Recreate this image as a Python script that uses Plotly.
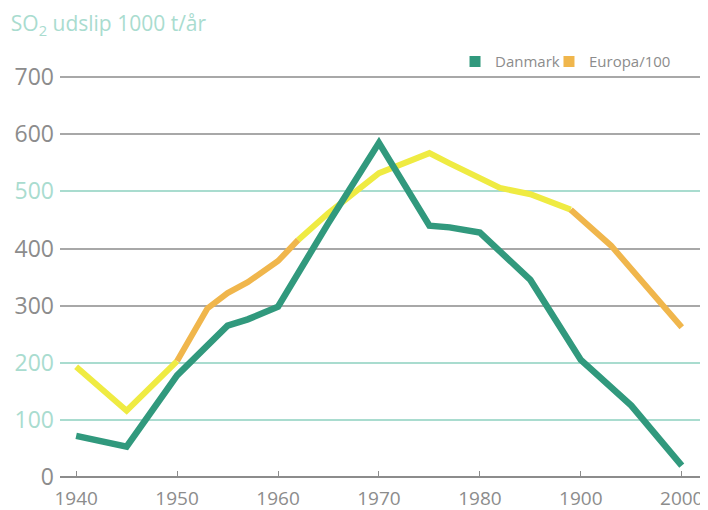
import plotly.graph_objects as go

# ---- data ----
dk_years = [1940, 1945, 1950, 1955, 1957, 1960, 1965, 1970, 1975, 1977, 1980, 1985, 1990, 1995, 2000]
dk_vals = [72, 53, 178, 265, 276, 298, 445, 585, 440, 437, 428, 345, 205, 125, 20]

eu_years = [1940, 1945, 1950, 1953, 1955, 1957, 1960, 1962, 1965, 1970, 1975, 1977, 1980, 1982, 1985, 1989, 1993, 2000]
eu_vals = [193, 116, 203, 295, 322, 341, 378, 415, 462, 532, 567, 549, 523, 506, 495, 468, 405, 262]

x_ticks = [1940, 1950, 1960, 1970, 1980, 1990, 2000]
x_ticktext = ["1940", "1950", "1960", "1970", "1980", "1900", "2000"]
y_ticks = [0, 100, 200, 300, 400, 500, 600, 700]
teal_ticks = [100, 200, 500]

title_text = "SO<sub>2</sub> udslip 1000 t/år"
names = ["Danmark", "Europa/100"]

# ---- styles ----
TEAL = "#31997d"
YELLOW = "#efeb42"
ORANGE = "#f0b64c"
GRAY = "#8c8c8c"
GRID_GRAY = "#a8a8a8"
GRID_TEAL = "#a9dccf"
FONT = "Open Sans"

def eu_color(mid_year):
    if 1948.5 <= mid_year <= 1961 or mid_year >= 1991:
        return ORANGE
    return YELLOW

fig = go.Figure()

# Europa line drawn in colour segments
segments = []
for i in range(len(eu_years) - 1):
    c = eu_color((eu_years[i] + eu_years[i + 1]) / 2)
    if segments and segments[-1][0] == c:
        segments[-1][1].append(i + 1)
    else:
        segments.append([c, [i, i + 1]])
for c, idx in segments:
    fig.add_trace(go.Scatter(
        x=[eu_years[k] for k in idx], y=[eu_vals[k] for k in idx],
        mode="lines", line=dict(color=c, width=6), showlegend=False,
        hoverinfo="skip"))

fig.add_trace(go.Scatter(x=dk_years, y=dk_vals, mode="lines",
                         line=dict(color=TEAL, width=6.5), showlegend=False))

# legend entries (square markers), one legend box each
for nm, c, lg in zip(names, [TEAL, ORANGE], ["legend", "legend2"]):
    fig.add_trace(go.Scatter(x=[None], y=[None], mode="markers", name=nm,
                             legend=lg,
                             marker=dict(symbol="square", size=11, color=c)))

# teal gridlines via overlay axis
fig.add_trace(go.Scatter(x=[None], y=[None], yaxis="y2", showlegend=False))

def tick_label(v):
    col = GRID_TEAL if v in teal_ticks else GRAY
    return f"<span style='color:{col}'>{v}</span>"

legend_style = dict(orientation="h", xanchor="left", y=0.95, yanchor="middle",
                    font=dict(size=15, color=GRAY), itemwidth=30,
                    bgcolor="rgba(0,0,0,0)")

fig.update_layout(
    width=700, height=502,
    margin=dict(l=52, r=0, t=32, b=33, autoexpand=False),
    paper_bgcolor="white", plot_bgcolor="rgba(0,0,0,0)",
    font=dict(family=FONT, color=GRAY, size=19),
    title=dict(text=title_text, x=0.004, xanchor="left", y=0.968, yanchor="middle",
               font=dict(family=FONT, size=21, color=GRID_TEAL)),
    xaxis=dict(range=[1938.4, 2002.6], tickvals=x_ticks, ticktext=x_ticktext,
               showgrid=False, zeroline=False, showline=False, automargin=False,
               ticks="inside", ticklen=6, tickcolor=GRAY, tickwidth=1.2,
               ticklabelstandoff=8,
               tickfont=dict(size=19, color=GRAY)),
    yaxis=dict(range=[0, 765], tickvals=y_ticks,
               ticktext=[tick_label(v) for v in y_ticks], automargin=False,
               showgrid=True, gridcolor=GRID_GRAY, gridwidth=1.5,
               zeroline=True, zerolinecolor=GRAY, zerolinewidth=1.5,
               showline=False, ticks="", ticklabelstandoff=5,
               tickfont=dict(size=23, color=GRAY)),
    yaxis2=dict(range=[0, 765], overlaying="y", tickvals=teal_ticks,
                showticklabels=False, showgrid=True, gridcolor=GRID_TEAL,
                gridwidth=1.5, zeroline=False, showline=False, automargin=False,
                layer="below traces"),
    legend=dict(x=0.6096, **legend_style),
    legend2=dict(x=0.7546, **legend_style),
)

fig.write_html("out.html")
